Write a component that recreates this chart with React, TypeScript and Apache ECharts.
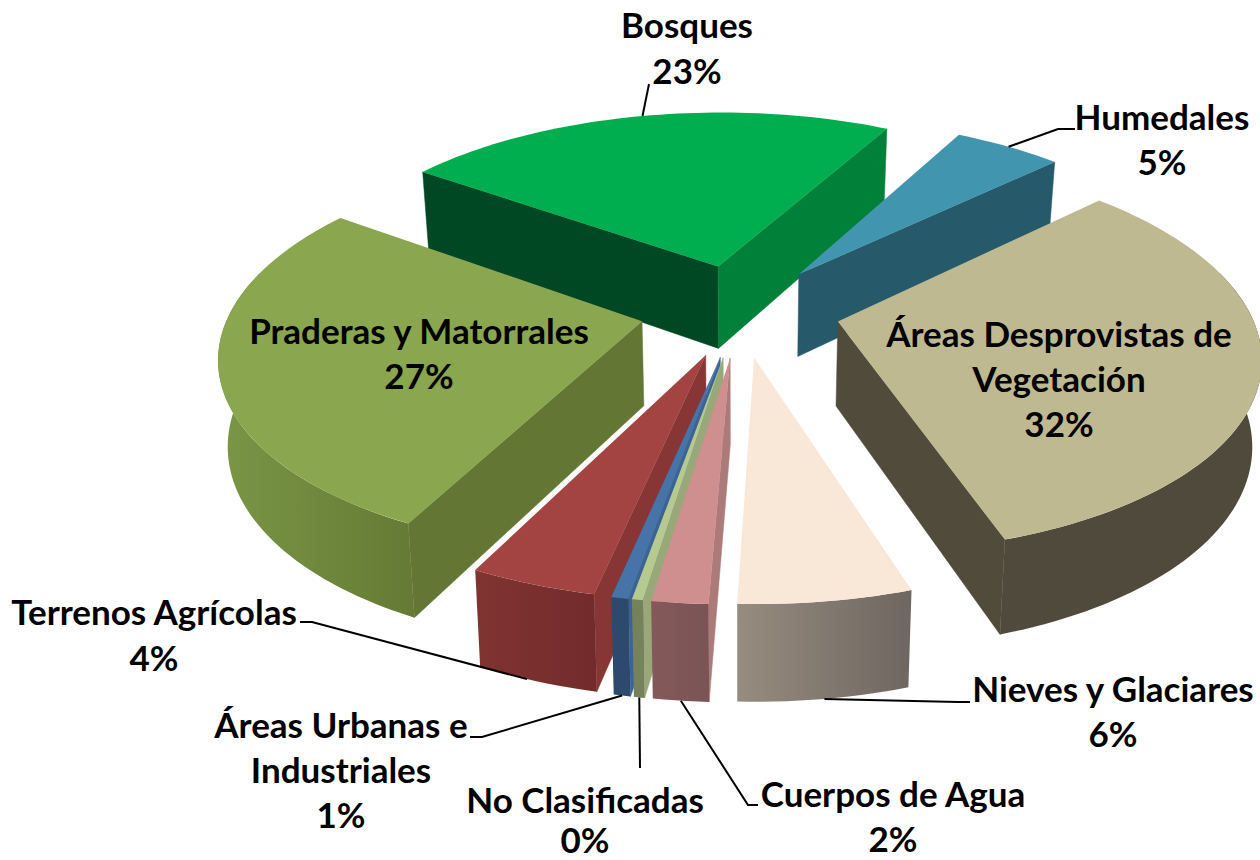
import React, { useEffect, useRef } from "react";
import * as echarts from "echarts";

const categories = ["Bosques", "Humedales", "Áreas Desprovistas de\nVegetación", "Nieves y Glaciares", "Cuerpos de Agua", "No Clasificadas", "Áreas Urbanas e\nIndustriales", "Terrenos Agrícolas", "Praderas y Matorrales"];
const values = [23, 5, 32.2, 5.55, 1.8, 0.35, 0.55, 4.1, 27.45];
const topColors = ["#00AE50", "#4195AF", "#BFB992", "#F9E7D8", "#CE8F8E", "#B6CA90", "#4673A8", "#A44442", "#8AA64E"];
const startWallColors = ["#004824", "#265A6A", "#504B3B", "#8C8276", "#AB7A79", "#98A878", "#3A6496", "#873535", "#647633"];
const endWallColors = ["#008038", "#265A6A", "#504B3B", "#8C8276", "#AB7A79", "#98A878", "#3A6496", "#873535", "#647633"];
const rimLeft = ["#004824", "#265A6A", "#4F4A3B", "#978C7F", "#85595A", "#76825C", "#2D4A6E", "#803432", "#7A9646"];
const rimRight = ["#008038", "#265A6A", "#4F4A3B", "#6E6660", "#7A5455", "#76825C", "#2D4A6E", "#722B2B", "#657A34"];

const START_ANGLE = -54.5;
const CX = 740, CY = 310, TILT = 0.463, FOCAL = 2620, RADIUS = 412, EXPLODE = 100, DEPTH = 84, TAPER = 0.00022;

const total = values.reduce((a, b) => a + b, 0);
const spans: [number, number][] = [];
{
  let a = START_ANGLE;
  for (const v of values) {
    const b = a + (v / total) * 360;
    spans.push([a, b]);
    a = b;
  }
}
const rad = (d: number) => (d * Math.PI) / 180;

function project(i: number, r: number, theta: number, z: number): [number, number] {
  const mid = (spans[i][0] + spans[i][1]) / 2;
  const X = EXPLODE * Math.sin(rad(mid)) + r * Math.sin(rad(theta));
  const Y = -EXPLODE * Math.cos(rad(mid)) - r * Math.cos(rad(theta));
  const s = 1 / (1 - Y / FOCAL);
  return [CX + X * s * (1 - z * TAPER), CY + Y * TILT * s + z * Math.pow(s, 0.7)];
}

function renderSlice(_params: any, api: any) {
  const i = api.value(0) as number;
  const [a, b] = spans[i];
  const children: any[] = [];
  const wall = (theta: number, fill: string) => {
    children.push({
      type: "polygon",
      shape: { points: [project(i, 0, theta, 0), project(i, RADIUS, theta, 0), project(i, RADIUS, theta, DEPTH), project(i, 0, theta, DEPTH)] },
      style: { fill, stroke: fill, lineWidth: 0.5 },
    });
  };
  if (Math.cos(rad(a - 90)) < 0) wall(a, startWallColors[i]);
  if (Math.cos(rad(b + 90)) < 0) wall(b, endWallColors[i]);

  const ra = Math.max(a, 75), rb = Math.min(b, 285);
  if (rb > ra) {
    const upper: [number, number][] = [], lower: [number, number][] = [];
    const steps = Math.max(2, Math.ceil((rb - ra) / 1.5));
    for (let k = 0; k <= steps; k++) {
      const t = ra + ((rb - ra) * k) / steps;
      upper.push(project(i, RADIUS, t, 0));
      lower.push(project(i, RADIUS, t, DEPTH));
    }
    children.push({
      type: "polygon",
      shape: { points: [...upper, ...lower.reverse()] },
      style: {
        fill: new echarts.graphic.LinearGradient(0, 0, 1, 0, [
          { offset: 0, color: rimLeft[i] },
          { offset: 1, color: rimRight[i] },
        ]),
      },
    });
  }

  const top: [number, number][] = [project(i, 0, a, 0)];
  const steps = Math.max(2, Math.ceil((b - a) / 1.5));
  for (let k = 0; k <= steps; k++) top.push(project(i, RADIUS, a + ((b - a) * k) / steps, 0));
  children.push({ type: "polygon", shape: { points: top }, style: { fill: topColors[i] } });
  return { type: "group", children };
}

const drawOrder = values
  .map((_, i) => i)
  .sort((p, q) => {
    const mp = (spans[p][0] + spans[p][1]) / 2, mq = (spans[q][0] + spans[q][1]) / 2;
    return Math.cos(rad(mq)) - Math.cos(rad(mp));
  });

// label layout: centre x, first-line centre y, line height
const labelLayout = [
  [687, 24, 46], [1162, 116, 45], [1059, 333, 45], [1113, 688, 45], [893, 793, 45], [585, 799, 40], [341, 724, 45], [154, 611, 46], [419, 330, 45],
];
// leaders: which slice, fraction along its span, depth on the wall, then the fixed points toward the label
const leaders: { i: number; f: number; z: number; pts: [number, number][] }[] = [
  { i: 0, f: 0.5, z: 0, pts: [[649, 84]] },
  { i: 1, f: 0.5, z: 0, pts: [[1058, 129], [1075, 129]] },
  { i: 3, f: 0.5, z: DEPTH, pts: [[958, 702], [970, 702]] },
  { i: 4, f: 0.5, z: DEPTH, pts: [[748, 805], [758, 805]] },
  { i: 5, f: 0.5, z: DEPTH, pts: [[640, 768]] },
  { i: 6, f: 0.5, z: DEPTH, pts: [[482, 737], [470, 737]] },
  { i: 7, f: 0.58, z: DEPTH, pts: [[312, 622], [300, 622]] },
];

const FONT = "Lato";

export default function App() {
  const ref = useRef<HTMLDivElement>(null);
  useEffect(() => {
    const chart = echarts.init(ref.current!, undefined, { renderer: "svg" });
    const labels = categories.map((name, i) => {
      const [x, y, lh] = labelLayout[i];
      return {
        type: "text",
        z: 20,
        x,
        y: y - lh / 2,
        silent: true,
        style: {
          text: `${name}\n${Math.round(values[i])}%`,
          fill: "#000",
          font: `bold 35px ${FONT}`,
          lineHeight: lh,
          align: "center",
          verticalAlign: "top",
        },
      };
    });
    const lines = leaders.map((l) => {
      const [a, b] = spans[l.i];
      return {
        type: "polyline",
        z: 15,
        silent: true,
        shape: { points: [project(l.i, RADIUS, a + (b - a) * l.f, l.z), ...l.pts] },
        style: { stroke: "#000", lineWidth: 2, fill: "none" },
      };
    });
    chart.setOption({
      animation: false,
      backgroundColor: "#fff",
      graphic: { elements: [...lines, ...labels] },
      series: [
        {
          type: "custom",
          coordinateSystem: "none",
          silent: true,
          renderItem: renderSlice,
          data: drawOrder.map((i) => [i, values[i]]),
          encode: { value: 1 },
        },
      ],
    });
    return () => chart.dispose();
  }, []);
  return <div ref={ref} style={{ position: "fixed", left: 0, top: 0, width: 1260, height: 860 }} />;
}
